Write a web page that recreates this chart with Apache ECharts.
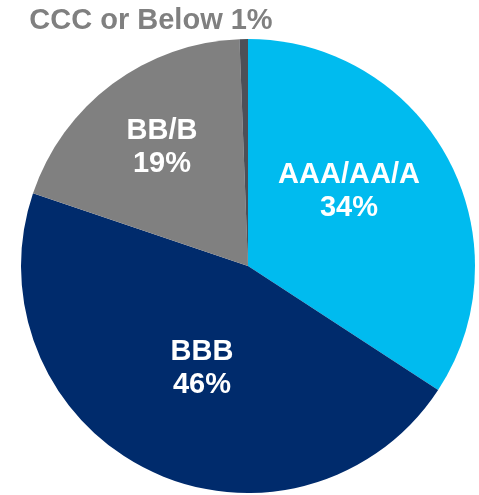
<!DOCTYPE html>
<html>
<head>
<meta charset="utf-8">
<script src="https://cdn.jsdelivr.net/npm/echarts@6/dist/echarts.min.js"></script>
<style>html,body{margin:0;padding:0;background:#fff;}#c{width:479px;height:495px;}</style>
</head>
<body>
<div id="c"></div>
<script>
var categories = ['AAA/AA/A', 'BBB', 'BB/B', 'CCC or Below'];
var values = [34.2, 46.0, 19.2, 0.6];
var colors = ['#00BBEF', '#002B6C', '#808080', '#4D5057'];
var labelColors = ['#ffffff', '#ffffff', '#ffffff', '#808080'];
var labelSpots = [[349, 191], [202, 368], [162, 147], [151, 21]];

var chart = echarts.init(document.getElementById('c'));
chart.setOption({
  animation: false,
  series: [{
    type: 'pie',
    center: [248, 266],
    radius: 227,
    startAngle: 90,
    clockwise: true,
    avoidLabelOverlap: false,
    labelLine: { show: false },
    label: {
      show: true,
      position: 'inside',
      fontFamily: 'Liberation Sans, Arial, sans-serif',
      fontWeight: 'bold',
      fontSize: 29,
      lineHeight: 33,
      align: 'center',
      formatter: function (p) {
        var pct = Math.round(p.value) + '%';
        return p.dataIndex === 3 ? p.name + ' ' + pct : p.name + '\n' + pct;
      }
    },
    labelLayout: function (p) {
      var s = labelSpots[p.dataIndex];
      return { x: s[0], y: s[1], align: 'center', verticalAlign: 'middle' };
    },
    data: categories.map(function (c, i) {
      return {
        name: c,
        value: values[i],
        itemStyle: { color: colors[i] },
        label: { color: labelColors[i] }
      };
    })
  }]
});
</script>
</body>
</html>
